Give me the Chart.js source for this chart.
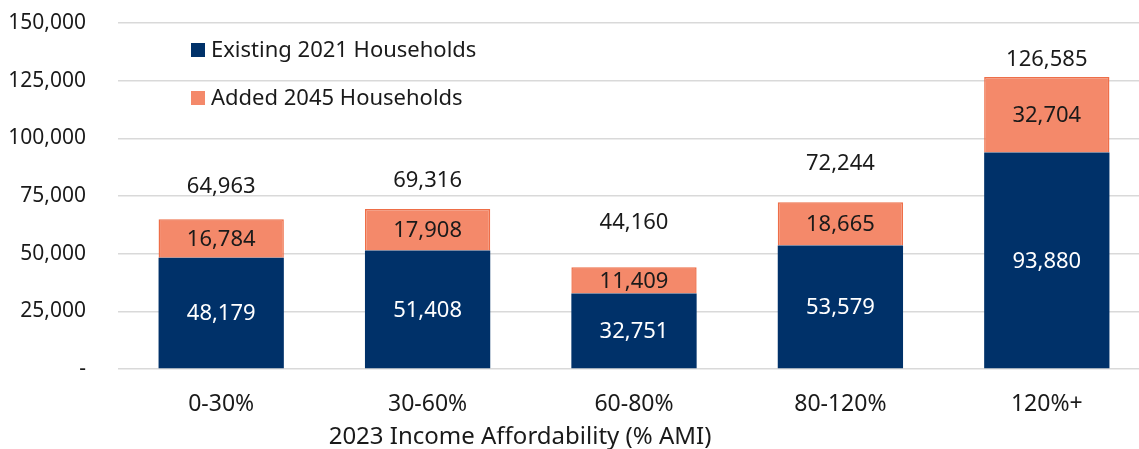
<!DOCTYPE html>
<html>
<head>
<meta charset="utf-8">
<script src="https://cdn.jsdelivr.net/npm/chart.js@4"></script>
<style>
  html, body { margin: 0; padding: 0; background: #fff; overflow: hidden; }
  /* plot runs slightly past the right edge of the page */
  #wrap { width: 1150px; height: 449px; }
</style>
</head>
<body>
<div id="wrap"><canvas id="hhChart"></canvas></div>
<script>
const categories = ["0-30%", "30-60%", "60-80%", "80-120%", "120%+"];
const existing2021 = [48179, 51408, 32751, 53579, 93880];
const added2045 = [16784, 17908, 11409, 18665, 32704];
const totals = [64963, 69316, 44160, 72244, 126585];
const yTicks = [0, 25000, 50000, 75000, 100000, 125000, 150000];

// how far each total label sits above its stack, in px
const totalLift = [32, 28, 44, 39, 17];

const FONT = "'Noto Sans', 'Open Sans', sans-serif";
const INK = "#1a1a1a";
const fmt = (v) => v.toLocaleString("en-US");

// value labels inside each segment, totals above the stack
const labelPlugin = {
  id: "barLabels",
  afterDatasetsDraw(chart) {
    const ctx = chart.ctx;
    ctx.save();
    ctx.font = "22px " + FONT;
    ctx.textAlign = "center";
    ctx.textBaseline = "middle";
    chart.data.datasets.forEach((ds, i) => {
      const meta = chart.getDatasetMeta(i);
      meta.data.forEach((bar, j) => {
        const { x, y, base } = bar.getProps(["x", "y", "base"], true);
        ctx.fillStyle = i === 0 ? "#ffffff" : INK;
        ctx.fillText(fmt(ds.data[j]), x, (y + base) / 2 + 1);
      });
    });
    const yScale = chart.scales.y;
    const top = chart.getDatasetMeta(1);
    ctx.fillStyle = INK;
    top.data.forEach((bar, j) => {
      ctx.fillText(fmt(totals[j]), bar.x, yScale.getPixelForValue(totals[j]) - totalLift[j]);
    });
    ctx.restore();
  }
};

// legend drawn inside the plot area, top-left
const insideLegend = {
  id: "insideLegend",
  afterDraw(chart) {
    const ctx = chart.ctx;
    const area = chart.chartArea;
    ctx.save();
    ctx.font = "22px " + FONT;
    ctx.textBaseline = "middle";
    chart.data.datasets.forEach((ds, i) => {
      const x = area.left + 73;
      const y = area.top + 27 + i * 48;
      ctx.fillStyle = ds.backgroundColor;
      ctx.fillRect(x, y - 7, 14, 14);
      ctx.fillStyle = INK;
      ctx.fillText(ds.label, x + 20, y + 1);
    });
    ctx.restore();
  }
};

// axis title under the category labels
const xTitle = {
  id: "xTitle",
  afterDraw(chart) {
    const ctx = chart.ctx;
    ctx.save();
    ctx.font = "24px " + FONT;
    ctx.fillStyle = INK;
    ctx.textAlign = "center";
    ctx.textBaseline = "middle";
    ctx.fillText("2023 Income Affordability (% AMI)", 520, 437);
    ctx.restore();
  }
};

new Chart(document.getElementById("hhChart"), {
  type: "bar",
  data: {
    labels: categories,
    datasets: [
      {
        label: "Existing 2021 Households",
        data: existing2021,
        backgroundColor: "#003169",
        borderWidth: 0,
        categoryPercentage: 1,
        barPercentage: 0.607,
      },
      {
        label: "Added 2045 Households",
        data: added2045,
        backgroundColor: "#F4896A",
        borderColor: "#EE6E48",
        borderWidth: 1.5,
        borderSkipped: "bottom",
        categoryPercentage: 1,
        barPercentage: 0.607,
      },
    ],
  },
  options: {
    responsive: true,
    maintainAspectRatio: false,
    animation: false,
    layout: { padding: { left: 0, right: 0, top: 23, bottom: 0 } },
    plugins: {
      legend: { display: false },
      tooltip: { enabled: false },
    },
    scales: {
      x: {
        stacked: true,
        afterFit(axis) {
          axis.height = 80;
          axis.paddingLeft = 0;
          axis.paddingRight = 0;
        },
        grid: { display: false },
        border: { display: false },
        ticks: { color: INK, font: { family: FONT, size: 23 }, padding: 14 },
      },
      y: {
        stacked: true,
        min: 0,
        max: 150000,
        afterFit(axis) {
          axis.width = 118;
          axis.paddingTop = 0;
          axis.paddingBottom = 0;
        },
        afterBuildTicks(axis) {
          axis.ticks = yTicks.map((v) => ({ value: v }));
        },
        grid: { color: "#d9d9d9", lineWidth: 1.5, drawTicks: false },
        border: { display: false },
        ticks: {
          color: INK,
          font: { family: FONT, size: 21 },
          padding: 32,
          callback: (v) => (v === 0 ? "-" : fmt(v)),
        },
      },
    },
  },
  plugins: [labelPlugin, insideLegend, xTitle],
});
</script>
</body>
</html>
